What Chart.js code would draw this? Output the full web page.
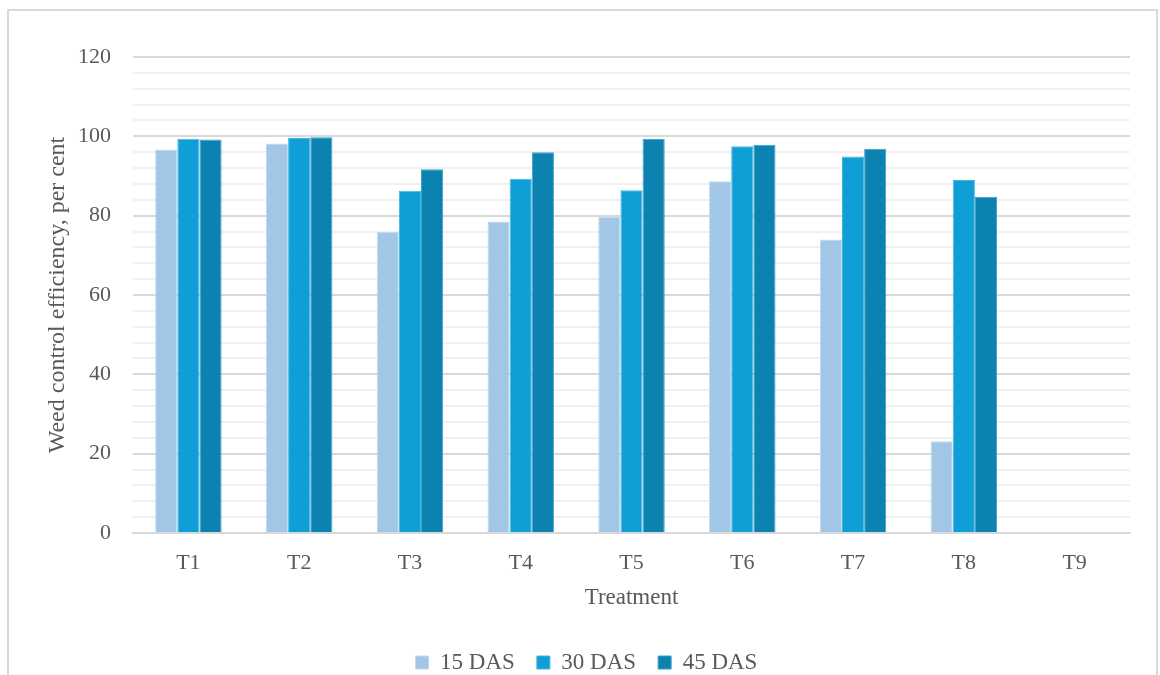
<!DOCTYPE html>
<html>
<head>
<meta charset="utf-8">
<script src="https://cdn.jsdelivr.net/npm/chart.js@4"></script>
<style>
  body { margin: 0; background: #fff; }
  #wrap { position: relative; width: 1160px; height: 675px; overflow: hidden; }
  #frame { position: absolute; left: 7px; top: 9px; width: 1151px; height: 700px; border: 2px solid #d9d9d9; box-sizing: border-box; }
  canvas { position: absolute; left: 0; top: 0; }
</style>
</head>
<body>
<div id="wrap">
  <div id="frame"></div>
  <canvas id="myChart" width="1160" height="675"></canvas>
</div>
<script>
const categories = ['T1', 'T2', 'T3', 'T4', 'T5', 'T6', 'T7', 'T8', 'T9'];
const das15 = [96.7, 98.2, 75.9, 78.5, 79.7, 88.7, 74.0, 23.1, 0];
const das30 = [99.4, 99.6, 86.3, 89.3, 86.4, 97.5, 94.9, 89.0, 0];
const das45 = [99.2, 99.8, 91.7, 96.0, 99.4, 97.9, 96.9, 84.8, 0];
const seriesNames = ['15 DAS', '30 DAS', '45 DAS'];

document.addEventListener('DOMContentLoaded', function () {
    const ctx = document.getElementById('myChart').getContext('2d');
    const font = 'Liberation Serif';
    const textColor = '#595959';
    // bars touch each other, with a thin lighter edge like the office chart
    const mk = (label, data, color, edge) => ({
        label: label,
        data: data,
        backgroundColor: color,
        borderColor: edge,
        borderWidth: 1,
        categoryPercentage: 0.6,
        barPercentage: 1.0
    });
    new Chart(ctx, {
        type: 'bar',
        data: {
            labels: categories,
            datasets: [
                mk(seriesNames[0], das15, '#a2c6e6', '#c2daef'),
                mk(seriesNames[1], das30, '#109ed6', '#45b5e2'),
                mk(seriesNames[2], das45, '#0b82b0', '#3ba0c8')
            ]
        },
        options: {
            responsive: false,
            animation: false,
            // legend sits low in the frame, so let its box run a bit past the bottom edge
            layout: { padding: { top: 57, right: 30, left: 43, bottom: -9 } },
            plugins: {
                tooltip: { enabled: false },
                legend: {
                    position: 'bottom',
                    labels: {
                        font: { family: font, size: 23 },
                        color: textColor,
                        boxWidth: 13,
                        boxHeight: 13,
                        padding: 22
                    }
                }
            },
            scales: {
                x: {
                    grid: { display: false },
                    border: { color: '#d9d9d9', width: 2 },
                    ticks: { font: { family: font, size: 22 }, color: textColor, padding: 9 },
                    title: {
                        display: true,
                        text: 'Treatment',
                        font: { family: font, size: 23 },
                        color: textColor,
                        padding: { top: 6, bottom: 17 }
                    },
                    afterFit: function (scale) { scale.height = 96; }
                },
                y: {
                    min: 0,
                    max: 120,
                    border: { display: false },
                    grid: {
                        color: c => (c.tick.value % 20 === 0 ? '#d9d9d9' : '#f0f0f0'),
                        lineWidth: 2,
                        drawTicks: false
                    },
                    ticks: {
                        stepSize: 4,
                        autoSkip: false,
                        padding: 22,
                        font: { family: font, size: 22 },
                        color: textColor,
                        callback: v => (v % 20 === 0 ? v : '')
                    },
                    title: {
                        display: true,
                        text: 'Weed control efficiency, per cent',
                        font: { family: font, size: 24 },
                        color: textColor,
                        padding: { top: 0, bottom: 0 }
                    },
                    afterFit: function (scale) { scale.width = 90; }
                }
            }
        }
    });
});
</script>
</body>
</html>
